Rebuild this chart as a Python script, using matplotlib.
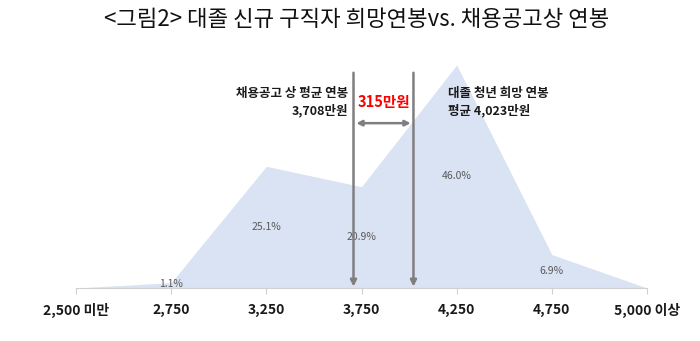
import matplotlib
matplotlib.use("Agg")
import matplotlib.pyplot as plt

plt.rcParams['font.family'] = ['Noto Sans CJK KR', 'DejaVu Sans']

# salary bins (만원), drawn at bin midpoints
bin_centers = [2250, 2750, 3250, 3750, 4250, 4750, 5250]
bin_labels = ["2,500 미만", "2,750", "3,250", "3,750", "4,250", "4,750", "5,000 이상"]
share_pct = [0.0, 1.1, 25.1, 20.9, 46.0, 6.9, 0.0]

posting_avg = 3708   # 채용공고 상 평균 연봉
desired_avg = 4023   # 대졸 청년 희망 연봉 평균

line_gray = "#7f7f7f"

fig = plt.figure(figsize=(7, 3.41), dpi=100)
ax = fig.add_axes([76 / 700, 53 / 341, 571 / 700, 242.4 / 341])

ax.fill_between(bin_centers, share_pct, color="#dae3f3", lw=0)

for x, v in zip(bin_centers, share_pct):
    if v > 0:
        ax.text(x, max(v / 2, 0.8), f"{v:.1f}%", ha="center", va="center",
                fontsize=7.5, color="#595959")

ax.set_xlim(2250, 5250)
ax.set_ylim(0, 50)
for s in ["top", "left", "right"]:
    ax.spines[s].set_visible(False)
ax.spines["bottom"].set_color("#d0d0d0")
ax.set_yticks([])
ax.set_xticks(bin_centers, bin_labels)
ax.tick_params(axis="x", length=4, color="#d0d0d0", pad=7,
               labelsize=10, labelcolor="#1a1a1a")
for lab in ax.get_xticklabels():
    lab.set_fontweight("bold")

# average salary markers
for x in [posting_avg, desired_avg]:
    ax.annotate("", xy=(x, 0.3), xytext=(x, 44.4),
                arrowprops=dict(arrowstyle="-|>", color=line_gray, lw=1.8,
                                mutation_scale=9, shrinkA=0, shrinkB=0))

ax.annotate("", xy=(posting_avg, 34.0), xytext=(desired_avg, 34.0),
            arrowprops=dict(arrowstyle="<|-|>", color=line_gray, lw=1.8,
                            mutation_scale=8, shrinkA=2, shrinkB=2))

gap = desired_avg - posting_avg
ax.text((posting_avg + desired_avg) / 2, 38.4, f"{gap}만원", ha="center",
        va="center", fontsize=10.5, fontweight="bold", color="#ff0000")

ax.text(posting_avg - 30, 40.2, "채용공고 상 평균 연봉", ha="right", va="center",
        fontsize=9, fontweight="bold", color="#1a1a1a", clip_on=False)
ax.text(posting_avg - 30, 36.7, f"{posting_avg:,}만원", ha="right", va="center",
        fontsize=9, fontweight="bold", color="#1a1a1a", clip_on=False)
ax.text(desired_avg + 183, 40.2, "대졸 청년 희망 연봉", ha="left", va="center",
        fontsize=9, fontweight="bold", color="#1a1a1a", clip_on=False)
ax.text(desired_avg + 183, 36.7, f"평균 {desired_avg:,}만원", ha="left", va="center",
        fontsize=9, fontweight="bold", color="#1a1a1a", clip_on=False)

fig.text(0.51, 1 - 20 / 341, "<그림2> 대졸 신규 구직자 희망연봉vs. 채용공고상 연봉",
         ha="center", va="center", fontsize=16, color="#111111")

fig.savefig("out.png", dpi=100)
